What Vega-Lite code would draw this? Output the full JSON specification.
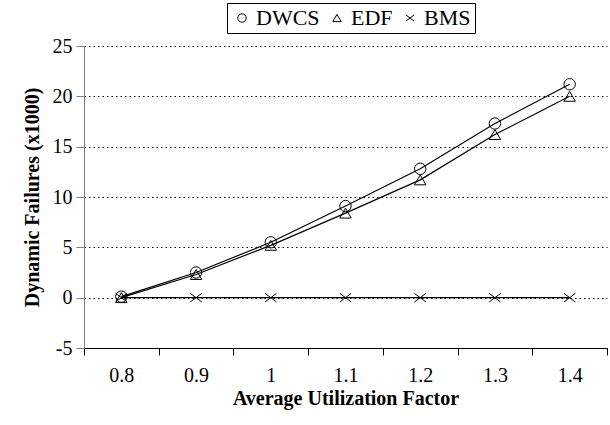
{
  "$schema": "https://vega.github.io/schema/vega-lite/v6.json",
  "width": 523,
  "height": 302,
  "autosize": "none",
  "padding": {"left": 84, "top": 46, "right": 3, "bottom": 77},
  "view": {"stroke": null},
  "data": {
    "values": [
      {"u": "0.8", "series": "DWCS", "v": 0.1},
      {"u": "0.9", "series": "DWCS", "v": 2.5},
      {"u": "1", "series": "DWCS", "v": 5.5},
      {"u": "1.1", "series": "DWCS", "v": 9.1},
      {"u": "1.2", "series": "DWCS", "v": 12.8},
      {"u": "1.3", "series": "DWCS", "v": 17.3},
      {"u": "1.4", "series": "DWCS", "v": 21.2},
      {"u": "0.8", "series": "EDF", "v": 0.0},
      {"u": "0.9", "series": "EDF", "v": 2.3},
      {"u": "1", "series": "EDF", "v": 5.2},
      {"u": "1.1", "series": "EDF", "v": 8.4},
      {"u": "1.2", "series": "EDF", "v": 11.7},
      {"u": "1.3", "series": "EDF", "v": 16.2},
      {"u": "1.4", "series": "EDF", "v": 20.0},
      {"u": "0.8", "series": "BMS", "v": 0},
      {"u": "0.9", "series": "BMS", "v": 0},
      {"u": "1", "series": "BMS", "v": 0},
      {"u": "1.1", "series": "BMS", "v": 0},
      {"u": "1.2", "series": "BMS", "v": 0},
      {"u": "1.3", "series": "BMS", "v": 0},
      {"u": "1.4", "series": "BMS", "v": 0}
    ]
  },
  "layer": [
    {
      "mark": {"type": "line", "color": "black", "strokeWidth": 1.2},
      "encoding": {
        "x": {
          "field": "u",
          "type": "ordinal",
          "sort": ["0.8", "0.9", "1", "1.1", "1.2", "1.3", "1.4"],
          "scale": {"type": "band", "paddingInner": 0, "paddingOuter": 0},
          "axis": {
            "title": "Average Utilization Factor",
            "titleFont": "Liberation Serif",
            "titleFontSize": 20,
            "titleFontWeight": "bold",
            "titleColor": "black",
            "titlePadding": 3,
            "labelFont": "Liberation Serif",
            "labelFontSize": 20,
            "labelColor": "black",
            "labelAngle": 0,
            "labelPadding": 10,
            "bandPosition": 0,
            "tickBand": "extent",
            "tickSize": 7,
            "tickColor": "black",
            "domainColor": "black",
            "grid": false
          }
        },
        "y": {
          "field": "v",
          "type": "quantitative",
          "scale": {"domain": [-5, 25], "nice": false, "zero": false},
          "axis": {
            "title": "Dynamic Failures (x1000)",
            "titleFont": "Liberation Serif",
            "titleFontSize": 20,
            "titleFontWeight": "bold",
            "titleColor": "black",
            "titlePadding": 10,
            "labelFont": "Liberation Serif",
            "labelFontSize": 20,
            "labelColor": "black",
            "labelPadding": 4,
            "labelExpr": "toString(datum.value)",
            "values": [-5, 0, 5, 10, 15, 20, 25],
            "tickSize": 8,
            "tickColor": "#808080",
            "domainColor": "#808080",
            "grid": true,
            "gridColor": "black",
            "gridDash": [1.5, 3],
            "gridWidth": 1
          }
        },
        "detail": {"field": "series"}
      }
    },
    {
      "mark": {"type": "point", "filled": false, "color": "black", "strokeWidth": 1, "opacity": 1, "size": 130},
      "encoding": {
        "x": {"field": "u", "type": "ordinal", "sort": ["0.8", "0.9", "1", "1.1", "1.2", "1.3", "1.4"]},
        "y": {"field": "v", "type": "quantitative"},
        "shape": {
          "field": "series",
          "type": "nominal",
          "scale": {
            "domain": ["DWCS", "EDF", "BMS"],
            "range": ["circle", "triangle-up", "M-1,-0.75L1,0.75M-1,0.75L1,-0.75"]
          },
          "legend": {
            "title": null,
            "orient": "none",
            "legendX": 143,
            "legendY": -43,
            "direction": "horizontal",
            "strokeColor": "black",
            "fillColor": "white",
            "padding": 4,
            "labelFont": "Liberation Serif",
            "labelFontSize": 22,
            "labelColor": "black",
            "labelOffset": 3,
            "symbolSize": 70,
            "symbolStrokeColor": "black",
            "symbolStrokeWidth": 1,
            "columnPadding": 6
          }
        }
      }
    }
  ]
}
